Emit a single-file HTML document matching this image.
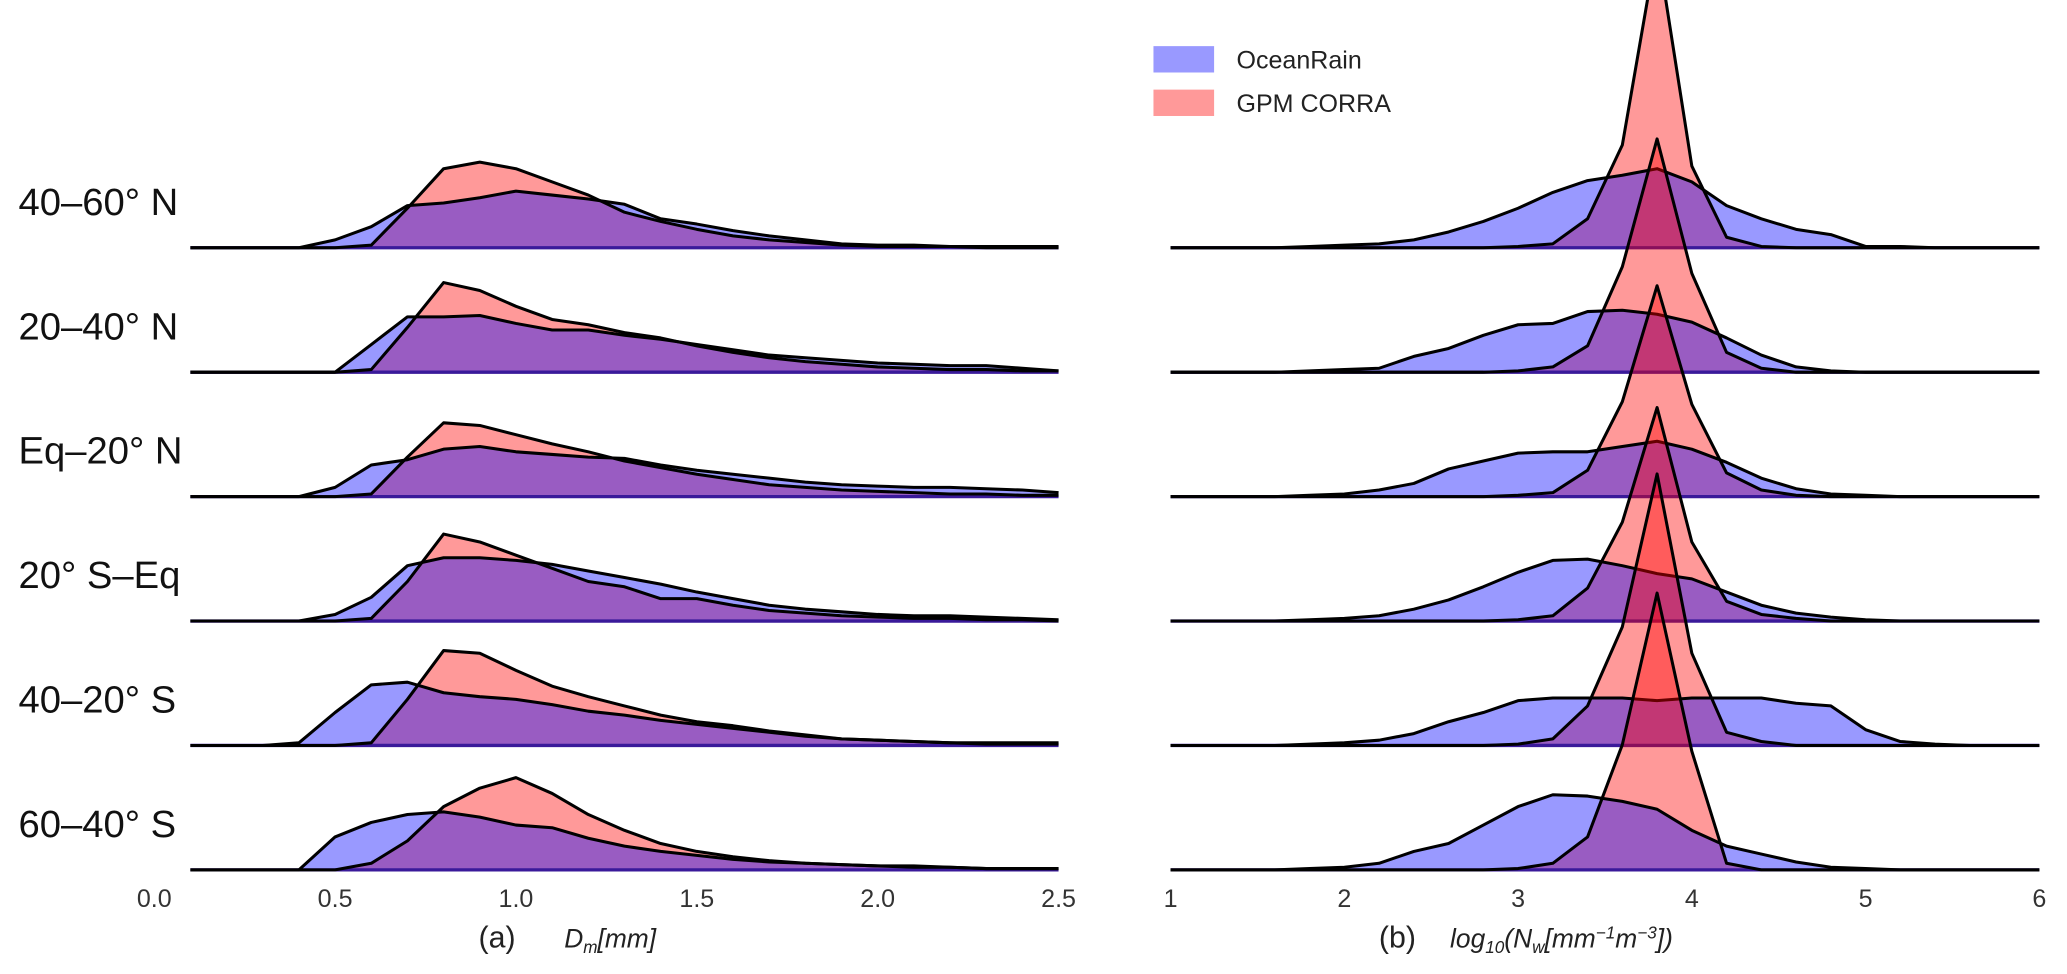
<!DOCTYPE html>
<html><head><meta charset="utf-8"><style>
html,body{margin:0;padding:0;background:#fff;}
svg{display:block;}
text{font-family:"Liberation Sans",sans-serif;}
</style></head>
<body>
<svg id="chart" width="2067" height="974" viewBox="0 0 1568 739" preserveAspectRatio="none" xmlns="http://www.w3.org/2000/svg">
<g id="panels"></g>
<g>
  <rect x="875" y="35" width="46" height="20" fill="#9999ff"/>
  <text x="938" y="52" font-size="19" fill="#222">OceanRain</text>
  <rect x="875" y="68" width="46" height="20" fill="#ff9999"/>
  <text x="938" y="85" font-size="19" fill="#222">GPM CORRA</text>
</g>
<g>
  <text x="363" y="719" font-size="23" fill="#222">(a)</text>
  <text x="428" y="719" font-size="20" font-style="italic" fill="#222">D<tspan font-size="13" dy="4">m</tspan><tspan dy="-4">[mm]</tspan></text>
  <text x="1046" y="719" font-size="23" fill="#222">(b)</text>
  <text x="1100" y="719" font-size="20" font-style="italic" fill="#222">log<tspan font-size="13" dy="4">10</tspan><tspan dy="-4">(N</tspan><tspan font-size="13" dy="4">w</tspan><tspan dy="-4">[mm</tspan><tspan font-size="13" dy="-7">−1</tspan><tspan dy="7">m</tspan><tspan font-size="13" dy="-7">−3</tspan><tspan dy="7">])</tspan></text>
</g>
</svg>
<script>
const regions = ["40–60° N","20–40° N","Eq–20° N","20° S–Eq","40–20° S","60–40° S"];
const dmGrid = [0.1,0.2,0.3,0.4,0.5,0.6,0.7,0.8,0.9,1.0,1.1,1.2,1.3,1.4,1.5,1.6,1.7,1.8,1.9,2.0,2.1,2.2,2.3,2.4,2.5];
const nwGrid = [1.0,1.2,1.4,1.6,1.8,2.0,2.2,2.4,2.6,2.8,3.0,3.2,3.4,3.6,3.8,4.0,4.2,4.4,4.6,4.8,5.0,5.2,5.4,5.6,5.8,6.0];
const dmTicks = ["0.0","0.5","1.0","1.5","2.0","2.5"];
const dmTickVals = [0,0.5,1.0,1.5,2.0,2.5];
const nwTicks = ["1","2","3","4","5","6"];
const nwTickVals = [1,2,3,4,5,6];
const dmOcean = [
 [0,0,0,0,6,16,32,34,38,43,40,37,33,22,18,13,9,6,3,2,2,1,1,1,1],
 [0,0,0,0,0,21,42,42,43,37,32,32,28,25,21,17,13,11,9,7,6,5,5,3,1],
 [0,0,0,0,7,24,28,36,38,34,32,30,29,24,20,17,14,11,9,8,7,7,6,5,3],
 [0,0,0,0,5,18,42,48,48,46,43,38,33,28,22,17,12,9,7,5,4,4,3,2,1],
 [0,0,0,2,25,46,48,40,37,35,31,26,23,19,16,13,10,7,5,4,3,2,2,2,2],
 [0,0,0,0,25,36,42,44,40,34,32,24,18,14,11,8,6,5,4,3,2,2,1,1,1]];
const dmGpm = [
 [0,0,0,0,0,2,30,60,65,60,50,40,27,20,14,9,6,4,2,1,1,1,0,0,0],
 [0,0,0,0,0,2,34,68,62,50,40,36,30,26,20,15,11,8,6,4,3,2,2,1,1],
 [0,0,0,0,0,2,30,56,54,47,40,34,27,22,17,13,9,7,5,4,3,2,2,1,1],
 [0,0,0,0,0,2,30,66,60,50,40,30,26,17,17,12,8,6,4,3,2,2,1,1,0],
 [0,0,0,0,0,2,35,72,70,57,45,37,30,23,18,15,11,8,5,4,3,2,1,1,1],
 [0,0,0,0,0,5,22,48,62,70,58,42,30,20,14,10,7,5,4,3,3,2,1,1,1]];
const nwOcean = [
 [0,0,0,0,1,2,3,6,12,20,30,42,51,55,60,50,32,22,14,10,1,1,0,0,0,0],
 [0,0,0,0,1,2,3,12,18,28,36,37,46,47,44,38,26,13,4,1,0,0,0,0,0,0],
 [0,0,0,0,1,2,5,10,21,27,33,34,34,38,42,36,26,14,6,2,1,0,0,0,0,0],
 [0,0,0,0,1,2,4,9,16,26,37,46,47,42,36,32,22,12,6,3,1,0,0,0,0,0],
 [0,0,0,0,1,2,4,9,18,25,34,36,36,36,34,36,36,36,32,30,12,3,1,0,0,0],
 [0,0,0,0,1,2,5,14,20,34,48,57,56,52,46,30,18,12,6,2,1,0,0,0,0,0]];
const nwGpm = [
 [0,0,0,0,0,0,0,0,0,0,1,3,22,78,230,62,8,1,0,0,0,0,0,0,0,0],
 [0,0,0,0,0,0,0,0,0,0,1,4,20,80,177,75,15,3,0,0,0,0,0,0,0,0],
 [0,0,0,0,0,0,0,0,0,0,1,3,20,72,160,70,18,5,1,0,0,0,0,0,0,0],
 [0,0,0,0,0,0,0,0,0,0,1,4,25,75,162,60,15,5,2,0,0,0,0,0,0,0],
 [0,0,0,0,0,0,0,0,0,0,1,5,30,90,206,70,10,3,0,0,0,0,0,0,0,0],
 [0,0,0,0,0,0,0,0,0,0,1,5,25,95,210,90,5,0,0,0,0,0,0,0,0,0]];

const NS="http://www.w3.org/2000/svg";
const baseY0=188, rowStep=94.4, yScale=1;
const xDm = v => 117 + 274.4*v;
const xNw = v => 888 + 131.8*(v-1);
const yRow = (r,h) => baseY0 + r*rowStep - h*yScale;
const root=document.getElementById('panels');
function el(tag,attrs,parent){const e=document.createElementNS(NS,tag);for(const k in attrs)e.setAttribute(k,attrs[k]);(parent||root).appendChild(e);return e;}
function area(grid,vals,xf,r){
  let d=`M${xf(grid[0])},${yRow(r,0)}`;
  grid.forEach((g,i)=>{d+=` L${xf(g)},${yRow(r,vals[i])}`;});
  d+=` L${xf(grid[grid.length-1])},${yRow(r,0)} Z`;return d;}
function line(grid,vals,xf,r){return grid.map((g,i)=>(i?'L':'M')+xf(g)+','+yRow(r,vals[i])).join(' ');}
function panel(grid,oc,gp,xf,key){
  for(let r=0;r<regions.length;r++){
    const g=el('g',{});
    
    
    const a2=el('path',{d:area(grid,gp[r],xf,r),fill:'rgba(255,0,0,0.4)',stroke:'none'},g);
    
    
    const a1=el('path',{d:area(grid,oc[r],xf,r),fill:'rgba(0,0,255,0.4)',stroke:'none'},g);
    
    
    const bl=el('line',{x1:xf(grid[0]),x2:xf(grid[grid.length-1]),y1:yRow(r,0),y2:yRow(r,0),stroke:'#3a1a9a','stroke-width':2.5},g);
    
    
    const l1=el('path',{d:line(grid,oc[r],xf,r),fill:'none',stroke:'#000','stroke-width':2.3,'stroke-linejoin':'round'},g);
    
    
    const l2=el('path',{d:line(grid,gp[r],xf,r),fill:'none',stroke:'#000','stroke-width':2.3,'stroke-linejoin':'round'},g);
    
    
  }
}
panel(dmGrid,dmOcean,dmGpm,xDm,'dm');
panel(nwGrid,nwOcean,nwGpm,xNw,'nw');
regions.forEach((t,r)=>{
  const tx=el('text',{x:14,y:yRow(r,0)-25,'font-size':29,fill:'#111'});
  tx.textContent=t;
  
  
});
dmTicks.forEach((t,i)=>{
  const tx=el('text',{x:xDm(dmTickVals[i]),y:688,'font-size':19,fill:'#333','text-anchor':'middle'});
  tx.textContent=t;
  
  
});
nwTicks.forEach((t,i)=>{
  const tx=el('text',{x:xNw(nwTickVals[i]),y:688,'font-size':19,fill:'#333','text-anchor':'middle'});
  tx.textContent=t;
  
  
});
</script>
</body></html>
